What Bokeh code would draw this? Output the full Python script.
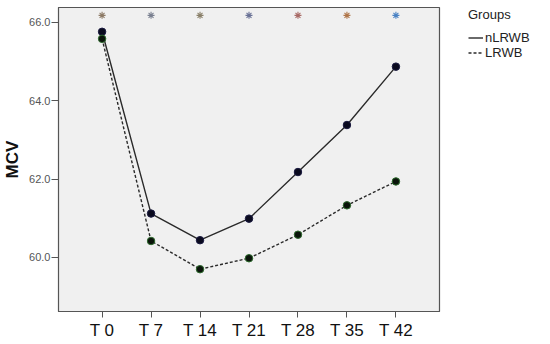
from bokeh.plotting import figure
from bokeh.layouts import row
from bokeh.models import Range1d, Legend, LegendItem, FixedTicker, NumeralTickFormatter, ColumnDataSource
from bokeh.embed import file_html
from bokeh.resources import INLINE

# ---- data ----
times = ["T 0", "T 7", "T 14", "T 21", "T 28", "T 35", "T 42"]
nlrwb = [65.76, 61.12, 60.44, 60.99, 62.18, 63.38, 64.87]
lrwb = [65.58, 60.42, 59.70, 59.98, 60.58, 61.33, 61.94]
sig_level = [66.18, 66.18, 66.18, 66.18, 66.18, 66.18, 66.18]
sig_colors = ["#8c7a66", "#7a8090", "#8a806a", "#6a7296", "#a86a66", "#b0764a", "#4a82c4"]
y_ticks = [60, 62, 64, 66]
group_names = ["nLRWB", "LRWB"]

xs = list(range(len(times)))

FONT = "Liberation Sans"
LINE_C = "#2a2a2a"

p = figure(width=445, height=342, output_backend="svg", toolbar_location=None,
           x_range=Range1d(-0.89, 6.89), y_range=Range1d(58.62, 66.38),
           min_border_left=55, min_border_right=6, min_border_top=7, min_border_bottom=30)

p.background_fill_color = "#f0f0f0"
p.border_fill_color = "white"
p.outline_line_color = "#555555"
p.outline_line_width = 1.2
p.grid.visible = False

# significance markers
src_sig = ColumnDataSource(dict(x=xs, y=sig_level, c=sig_colors))
p.scatter("x", "y", source=src_sig, marker="asterisk", size=7, line_color="c", line_width=1.1)

# lines
p.line(xs, nlrwb, line_color=LINE_C, line_width=1.4)
p.line(xs, lrwb, line_color=LINE_C, line_width=1.4, line_dash="3 2")
p.scatter(xs, nlrwb, size=7.5, fill_color="#0a0a1e", line_color="#1a1a40")
p.scatter(xs, lrwb, size=7.5, fill_color="#0a140a", line_color="#2e6b2e")

# axes
p.xaxis.ticker = FixedTicker(ticks=xs)
p.xaxis.major_label_overrides = {i: t for i, t in enumerate(times)}
p.xaxis.major_label_text_font = FONT
p.xaxis.major_label_text_font_size = "17px"
p.xaxis.major_label_text_color = "#111111"
p.xaxis.major_tick_out = 6
p.xaxis.major_tick_in = 0
p.xaxis.minor_tick_line_color = None
p.xaxis.axis_line_color = "#555555"
p.xaxis.major_tick_line_color = "#555555"
p.xaxis.major_label_standoff = 3

p.yaxis.ticker = FixedTicker(ticks=y_ticks)
p.yaxis.formatter = NumeralTickFormatter(format="0.0")
p.yaxis.major_label_text_font = FONT
p.yaxis.major_label_text_font_size = "11px"
p.yaxis.major_label_text_color = "#555555"
p.yaxis.major_tick_out = 7
p.yaxis.major_tick_in = 0
p.yaxis.minor_tick_line_color = None
p.yaxis.axis_line_color = "#555555"
p.yaxis.major_tick_line_color = "#555555"
p.yaxis.major_label_standoff = 1
p.yaxis.axis_label = "MCV"
p.yaxis.axis_label_text_font = FONT
p.yaxis.axis_label_text_font_style = "bold"
p.yaxis.axis_label_text_font_size = "17px"
p.yaxis.axis_label_text_color = "#111111"
p.yaxis.axis_label_standoff = 4

# legend panel
lp = figure(width=103, height=342, output_backend="svg", toolbar_location=None,
            x_range=Range1d(0, 1), y_range=Range1d(0, 1),
            min_border_left=23, min_border_right=0, min_border_top=7, min_border_bottom=0)
lp.axis.visible = False
lp.grid.visible = False
lp.outline_line_color = None
lp.background_fill_color = "white"
lr1 = lp.line(x=[5, 6], y=[5, 5], line_color=LINE_C, line_width=1.4)
lr2 = lp.line(x=[5, 6], y=[5, 5], line_color=LINE_C, line_width=1.4, line_dash="3 2")

legend = Legend(items=[LegendItem(label=group_names[0], renderers=[lr1]),
                       LegendItem(label=group_names[1], renderers=[lr2])],
                title="Groups", location="top_left")
legend.title_text_font = FONT
legend.title_text_font_size = "13px"
legend.title_text_font_style = "normal"
legend.title_text_color = "#222222"
legend.title_standoff = 8
legend.label_text_font = FONT
legend.label_text_font_size = "13px"
legend.label_text_color = "#222222"
legend.glyph_width = 15
legend.glyph_height = 13
legend.label_height = 13
legend.label_standoff = 2
legend.spacing = 0
legend.padding = 13
legend.margin = 0
legend.border_line_color = None
legend.background_fill_alpha = 0
lp.add_layout(legend)

layout = row(p, lp)
open("out.html", "w").write(file_html(layout, INLINE))
